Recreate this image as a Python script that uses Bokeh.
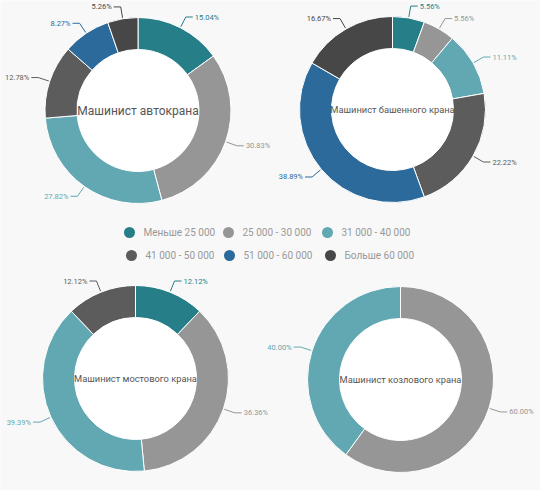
import math
from bokeh.plotting import figure
from bokeh.models import Range1d
from bokeh.core.properties import value
from bokeh.embed import file_html
from bokeh.resources import INLINE

# ---- data ----
categories = ["Меньше 25 000", "25 000 - 30 000", "31 000 - 40 000",
              "41 000 - 50 000", "51 000 - 60 000", "Больше 60 000"]
colors = ["#267f88", "#969696", "#62a8b2", "#5c5c5c", "#2c6a9c", "#474747"]

titles = ["Машинист автокрана", "Машинист башенного крана",
          "Машинист мостового крана", "Машинист козлового крана"]
avtokran = [15.04, 30.83, 27.82, 12.78, 8.27, 5.26]
bashenny = [5.56, 5.56, 11.11, 22.22, 38.89, 16.67]
mostovoy = [12.12, 36.36, 39.39, 12.12, 0, 0]
kozlovoy = [0, 60.00, 40.00, 0, 0, 0]
series = [avtokran, bashenny, mostovoy, kozlovoy]

# ---- layout (screen px) ----
W, H = 540, 490
centers = [(137.5, 110), (392, 109), (135, 378), (400, 379)]
title_sizes = ["12px", "9.3px", "9.3px", "9.3px"]
R_OUT, R_IN = 93, 61
FONT = "Roboto"
BG = "#f8f8f8"

p = figure(width=W, height=H, output_backend="svg", toolbar_location=None,
           x_range=Range1d(0, W), y_range=Range1d(0, H),
           min_border=0, outline_line_color=None,
           background_fill_color=BG, border_fill_color=BG)
p.axis.visible = False
p.grid.visible = False

def Y(sy):
    return H - sy

for (cx, cy), vals, title, tsize in zip(centers, series, titles, title_sizes):
    total = sum(vals)
    p.circle(x=[cx], y=[Y(cy)], radius=R_IN, fill_color="white", line_color=None)
    xs, ys, starts, ends, cols = [], [], [], [], []
    lx, ly, ltext, lcol, lalign = [], [], [], [], []
    lxs, lys = [], []
    cum = 0.0
    for v, c in zip(vals, colors):
        if v <= 0:
            continue
        a0 = math.pi / 2 - 2 * math.pi * cum / total
        a1 = math.pi / 2 - 2 * math.pi * (cum + v) / total
        am = (a0 + a1) / 2
        xs.append(cx); ys.append(Y(cy)); starts.append(a0); ends.append(a1); cols.append(c)
        x0 = cx + (R_OUT + 1) * math.cos(am)
        y0 = Y(cy) + (R_OUT + 1) * math.sin(am)
        x1 = cx + (R_OUT + 12) * math.cos(am)
        y1 = Y(cy) + (R_OUT + 12) * math.sin(am)
        side = 1 if math.cos(am) >= 0 else -1
        x2 = x1 + side * 7
        lxs.append([x0, x1, x2]); lys.append([y0, y1, y1])
        lx.append(x2 + side * 2); ly.append(y1)
        ltext.append(f"{v:.2f}%"); lcol.append(c)
        lalign.append("left" if side > 0 else "right")
        cum += v
    p.annular_wedge(x=xs, y=ys, inner_radius=R_IN, outer_radius=R_OUT,
                    start_angle=starts, end_angle=ends, direction="clock",
                    fill_color=cols, line_color="white", line_width=1)
    p.multi_line(xs=lxs, ys=lys, line_color=lcol, line_width=1)
    p.text(x=lx, y=ly, text=ltext, text_color=lcol, text_align=lalign,
           text_baseline="middle", text_font_size="7.5px", text_font=value(FONT))
    p.text(x=[cx], y=[Y(cy)], text=[title], text_color="#555555", text_align="center",
           text_baseline="middle", text_font_size=tsize, text_font=value(FONT))

# ---- legend ----
leg_pos = [(129, 232), (228, 232), (327, 232), (131, 255), (229, 255), (330, 255)]
p.scatter(x=[q[0] for q in leg_pos], y=[Y(q[1]) for q in leg_pos], size=11,
          marker="circle", fill_color=colors, line_color=None)
p.text(x=[q[0] + 14 for q in leg_pos], y=[Y(q[1]) for q in leg_pos], text=categories,
       text_color="#999999", text_align="left", text_baseline="middle",
       text_font_size="10px", text_font=value(FONT))

html = file_html(p, INLINE)
open("out.html", "w").write(html)
